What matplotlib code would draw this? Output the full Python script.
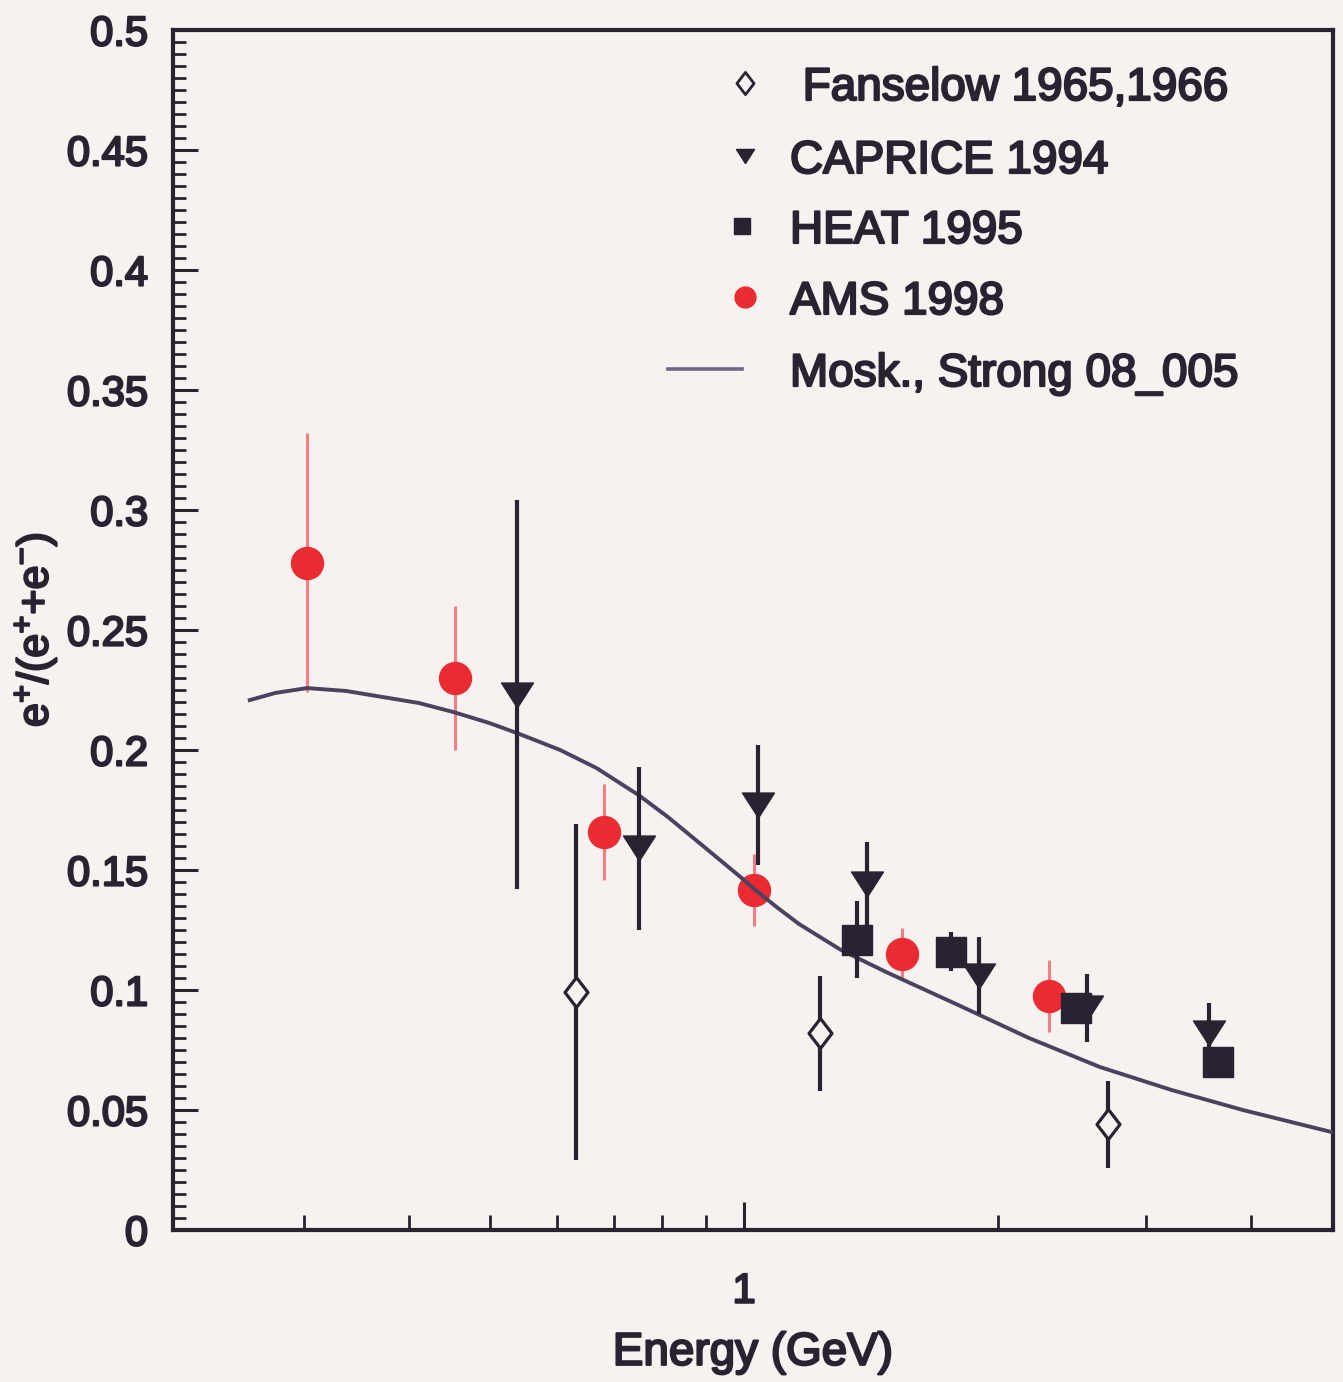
import matplotlib
matplotlib.use("Agg")
import matplotlib.pyplot as plt
import matplotlib.patheffects as pe
from matplotlib.path import Path
from matplotlib.ticker import FixedLocator, NullFormatter, MultipleLocator, FormatStrFormatter

# Positron fraction measurements
fans_e = [0.632, 1.231, 2.70]
fans_v = [0.099, 0.082, 0.044]
fans_err = [0.070, 0.024, 0.018]

caprice_e = [0.538, 0.751, 1.039, 1.399, 1.90, 2.55, 3.56]
caprice_v = [0.223, 0.159, 0.177, 0.144, 0.106, 0.0925, 0.082]
caprice_err = [0.081, 0.034, 0.025, 0.0175, 0.016, 0.014, 0.0125]

heat_e = [1.361, 1.76, 2.476, 3.65]
heat_v = [0.121, 0.116, 0.0925, 0.070]
heat_err = [0.016, 0.008, 0.005, 0.005]

ams_e = [0.303, 0.454, 0.682, 1.028, 1.54, 2.30]
ams_v = [0.278, 0.230, 0.166, 0.1415, 0.115, 0.0975]
ams_err = [0.054, 0.030, 0.020, 0.015, 0.011, 0.015]

# Moskalenko & Strong model curve
model_e = [0.259, 0.278, 0.303, 0.337, 0.372, 0.411, 0.452, 0.498, 0.541, 0.605,
           0.668, 0.749, 0.812, 0.894, 0.987, 1.025, 1.089, 1.162, 1.303, 1.474,
           1.794, 2.178, 2.645, 3.219, 3.908, 4.983]
model_v = [0.2208, 0.2238, 0.2258, 0.2246, 0.2221, 0.2196, 0.2158, 0.2113, 0.2067, 0.2000,
           0.1925, 0.1813, 0.1721, 0.1600, 0.1475, 0.1425, 0.1350, 0.1275, 0.1167, 0.1075,
           0.0938, 0.0800, 0.0679, 0.0583, 0.0500, 0.0408]

legend_labels = [" Fanselow 1965,1966", "CAPRICE 1994", "HEAT 1995", "AMS 1998",
                 "Mosk., Strong 08_005"]

BG = "#f7f1f0"
INK = "#2a2131"
RED = "#ea2b32"
PINK = "#f27f86"
CURVE = "#4a4360"

plt.rcParams["font.family"] = ["Liberation Sans", "DejaVu Sans"]
plt.rcParams["mathtext.fontset"] = "custom"
plt.rcParams["mathtext.rm"] = "Liberation Sans"
plt.rcParams["mathtext.it"] = "Liberation Sans"
plt.rcParams["mathtext.default"] = "rm"

thick = [pe.withStroke(linewidth=1.6, foreground=INK)]

tri_down = Path([(-1.0, 0.78), (1.0, 0.78), (0.0, -0.78), (-1.0, 0.78)],
                [Path.MOVETO, Path.LINETO, Path.LINETO, Path.CLOSEPOLY])
diamond = Path([(0.0, 1.0), (0.77, 0.0), (0.0, -1.0), (-0.77, 0.0), (0.0, 1.0)],
               [Path.MOVETO, Path.LINETO, Path.LINETO, Path.LINETO, Path.CLOSEPOLY])

fig = plt.figure(figsize=(13.43, 13.82), dpi=100, facecolor=BG)
ax = fig.add_axes([173 / 1343, 1 - 1230 / 1382, 1160 / 1343, 1200 / 1382], facecolor=BG)

ax.set_xscale("log")
ax.set_xlim(0.21, 5.0)
ax.set_ylim(0, 0.5)

ax.errorbar(ams_e, ams_v, yerr=ams_err, fmt="o", color=RED, ms=23, mec=RED,
            ecolor=PINK, elinewidth=2.2, capsize=0, zorder=3)
ax.plot(model_e, model_v, color=CURVE, lw=2.8, zorder=4, solid_joinstyle="round")
ax.errorbar(fans_e, fans_v, yerr=fans_err, fmt="none", ecolor=INK, elinewidth=3,
            capsize=0, zorder=5)
ax.plot(fans_e, fans_v, linestyle="none", marker=diamond, ms=21.5, mfc=BG, mec=INK,
        mew=2.3, zorder=6)
ax.errorbar(heat_e, heat_v, yerr=heat_err, fmt="s", color=INK, ms=21, ecolor=INK,
            elinewidth=3, capsize=0, zorder=5)
ax.errorbar(caprice_e, caprice_v, yerr=caprice_err, fmt="none", ecolor=INK,
            elinewidth=3, capsize=0, zorder=6)
ax.plot(caprice_e, caprice_v, linestyle="none", marker=tri_down, ms=23, color=INK,
        zorder=7)

# legend, drawn by hand so the symbols sit at the left end of the line sample
mx = (745 - 173) / 1160
tx = (790 - 173) / 1160
rows = [(1230 - y) / 1200 for y in (83, 156, 226, 297, 369)]
ax.plot([mx], [rows[0]], marker=diamond, ms=16, mfc=BG, mec=INK, mew=2.0,
        transform=ax.transAxes, clip_on=False)
ax.plot([mx], [rows[1]], marker=tri_down, ms=13, color=INK, transform=ax.transAxes)
ax.plot([mx - 0.003], [rows[2]], marker="s", ms=11.5, color=INK, transform=ax.transAxes)
ax.plot([mx], [rows[3]], marker="o", ms=15, color=RED, transform=ax.transAxes)
ax.plot([(668 - 173) / 1160, mx - 0.003], [rows[4], rows[4]], color="#6c6688", lw=2.6,
        transform=ax.transAxes)
for lab, ry in zip(legend_labels, rows):
    ax.text(tx, ry, lab, transform=ax.transAxes, fontsize=33, color=INK,
            ha="left", va="center_baseline", path_effects=thick)

# axes frame and ticks
for sp in ax.spines.values():
    sp.set_color(INK)
    sp.set_linewidth(3)

ax.yaxis.set_major_locator(MultipleLocator(0.05))
ax.yaxis.set_minor_locator(MultipleLocator(0.005))
ax.yaxis.set_major_formatter(FormatStrFormatter("%g"))
ax.xaxis.set_major_locator(FixedLocator([1.0]))
ax.xaxis.set_major_formatter(FormatStrFormatter("%g"))
ax.xaxis.set_minor_locator(FixedLocator([0.3, 0.4, 0.5, 0.6, 0.7, 0.8, 0.9, 2, 3, 4]))
ax.xaxis.set_minor_formatter(NullFormatter())

ax.tick_params(which="both", direction="in", color=INK, top=False, right=False)
ax.tick_params(axis="y", which="major", length=18, width=2.2, labelsize=30,
               labelcolor=INK, pad=18)
ax.tick_params(axis="y", which="minor", length=9, width=2)
ax.tick_params(axis="x", which="major", length=20, width=2.2, labelsize=30,
               labelcolor=INK, pad=30)
ax.tick_params(axis="x", which="minor", length=11, width=2)
for lbl in ax.get_xticklabels() + ax.get_yticklabels():
    lbl.set_path_effects(thick)

ax.set_xlabel("Energy (GeV)", fontsize=33, color=INK, path_effects=thick)
ax.xaxis.set_label_coords(0.5, -0.084)
ax.set_ylabel(r"e$^{+}$/(e$^{+}$+e$^{-}$)", fontsize=31, color=INK, path_effects=thick)
ax.yaxis.set_label_coords(-0.098, 0.5)

fig.savefig("out.png", dpi=100, facecolor=BG)
